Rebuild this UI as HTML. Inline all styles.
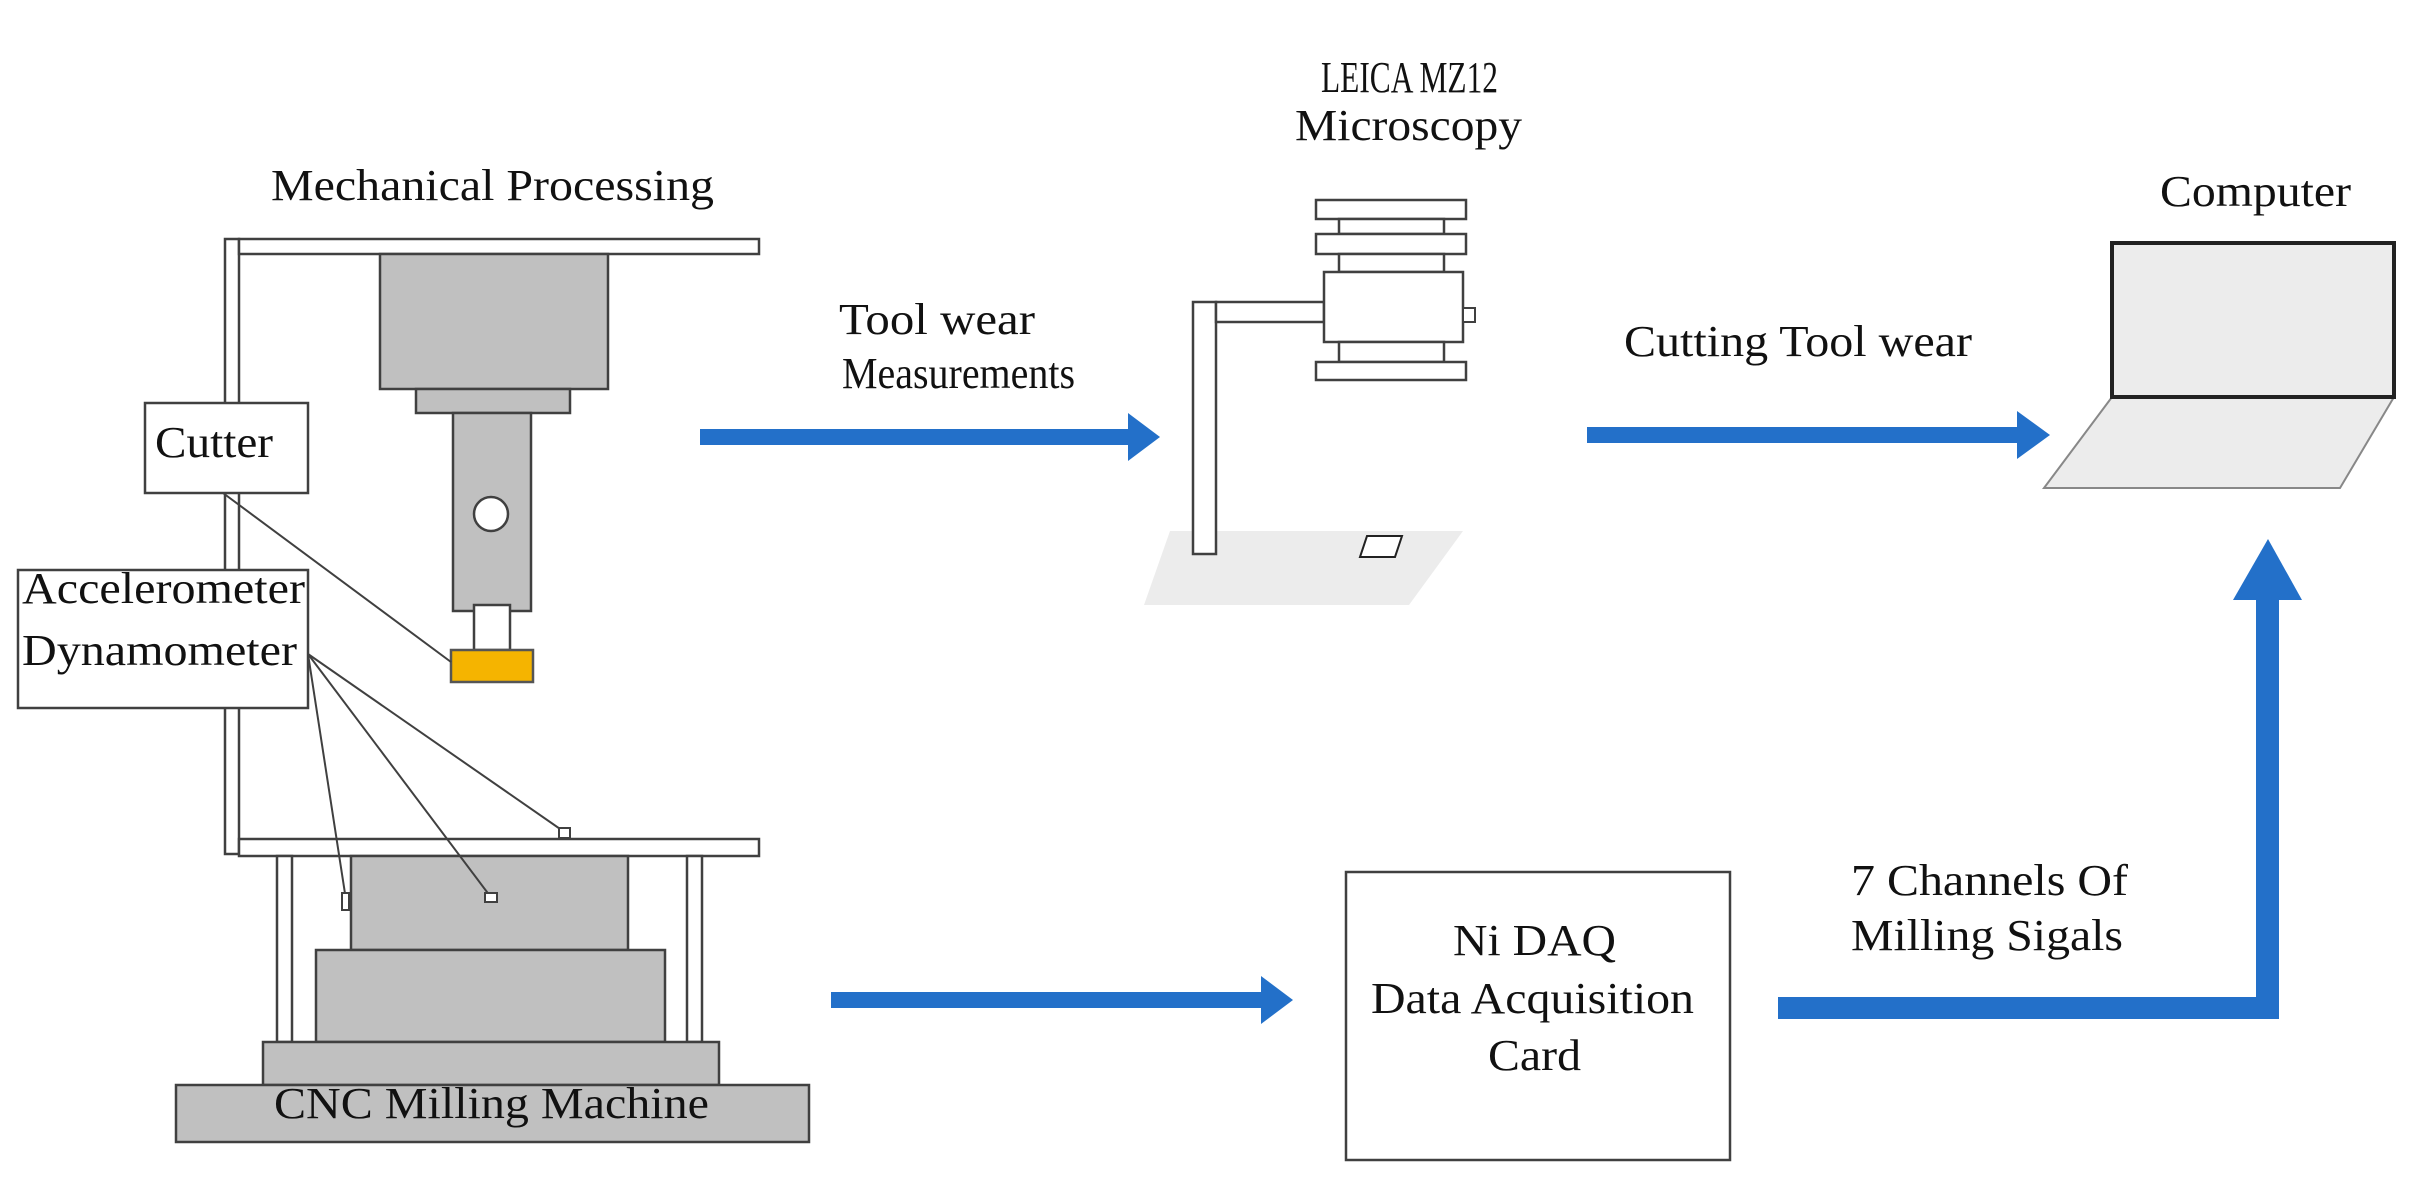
<!DOCTYPE html>
<html><head><meta charset="utf-8"><style>
html,body{margin:0;padding:0;background:#fff;}
svg{display:block;}
text{font-family:"Liberation Serif",serif;font-size:44px;fill:#111;}
</style></head><body>
<svg width="2414" height="1177" viewBox="0 0 2414 1177" xmlns="http://www.w3.org/2000/svg">
<g stroke="#404040" stroke-width="2.5">
 <rect x="225" y="239" width="14" height="615" fill="#fff"/>
 <rect x="239" y="239" width="520" height="15" fill="#fff"/>
 <rect x="380" y="254" width="228" height="135" fill="#c0c0c0"/>
 <rect x="416" y="389" width="154" height="24" fill="#c0c0c0"/>
 <rect x="453" y="413" width="78" height="198" fill="#c0c0c0"/>
 <circle cx="491" cy="514" r="17" fill="#fff"/>
 <rect x="474" y="605" width="36" height="45" fill="#fff"/>
 <rect x="451" y="650" width="82" height="32" fill="#f5b400" stroke="#555"/>
 <rect x="239" y="839" width="520" height="17" fill="#fff"/>
 <rect x="277" y="856" width="15" height="186" fill="#fff"/>
 <rect x="687" y="856" width="15" height="186" fill="#fff"/>
 <rect x="351" y="856" width="277" height="94" fill="#c0c0c0"/>
 <rect x="316" y="950" width="349" height="92" fill="#c0c0c0"/>
 <rect x="263" y="1042" width="456" height="43" fill="#c0c0c0"/>
 <rect x="176" y="1085" width="633" height="57" fill="#c0c0c0"/>
 <line x1="223" y1="493" x2="451" y2="662" stroke-width="2"/>
 <line x1="308" y1="654" x2="563" y2="831" stroke-width="2"/>
 <line x1="308" y1="654" x2="490" y2="896" stroke-width="2"/>
 <line x1="308" y1="654" x2="346" y2="900" stroke-width="2"/>
 <rect x="559" y="828" width="11" height="10" fill="#fff" stroke-width="2"/>
 <rect x="485" y="893" width="12" height="9" fill="#fff" stroke-width="2"/>
 <rect x="342" y="893" width="7" height="17" fill="#fff" stroke-width="2"/>
 <rect x="145" y="403" width="163" height="90" fill="#fff"/>
 <rect x="18" y="570" width="290" height="138" fill="#fff"/>
 <polygon points="1170,531 1463,531 1409,605 1144,605" fill="#ececec" stroke="none"/>
 <polygon points="1367,536 1402,536 1395,557 1360,557" fill="#fff" stroke="#222" stroke-width="2"/>
 <rect x="1193" y="302" width="23" height="252" fill="#fff"/>
 <rect x="1216" y="302" width="108" height="20" fill="#fff"/>
 <rect x="1316" y="200" width="150" height="19" fill="#fff"/>
 <rect x="1339" y="219" width="105" height="15" fill="#fff"/>
 <rect x="1316" y="234" width="150" height="20" fill="#fff"/>
 <rect x="1339" y="254" width="105" height="18" fill="#fff"/>
 <rect x="1324" y="272" width="139" height="70" fill="#fff"/>
 <rect x="1339" y="342" width="105" height="20" fill="#fff"/>
 <rect x="1316" y="362" width="150" height="18" fill="#fff"/>
 <rect x="1463" y="308" width="12" height="14" fill="#fff" stroke-width="2"/>
 <polygon points="2112,397 2394,397 2340,488 2044,488" fill="#ececec" stroke="#888" stroke-width="2"/>
 <rect x="2112" y="243" width="282" height="154" fill="#ececec" stroke="#222" stroke-width="4"/>
 <rect x="1346" y="872" width="384" height="288" fill="#fff"/>
</g>
<g fill="#2370c9">
 <rect x="700" y="429" width="430" height="16"/>
 <polygon points="1128,413 1160,437 1128,461"/>
 <rect x="1587" y="427" width="432" height="16"/>
 <polygon points="2017,411 2050,435 2017,459"/>
 <rect x="831" y="992" width="432" height="16"/>
 <polygon points="1261,976 1293,1000 1261,1024"/>
 <rect x="1778" y="997" width="501" height="22"/>
 <rect x="2256" y="598" width="23" height="421"/>
 <polygon points="2233,600 2268,539 2302,600"/>
</g>
<text x="271" y="200" textLength="443" lengthAdjust="spacingAndGlyphs">Mechanical Processing</text>
<text x="155" y="457" textLength="118" lengthAdjust="spacingAndGlyphs">Cutter</text>
<text x="22" y="603" textLength="283" lengthAdjust="spacingAndGlyphs">Accelerometer</text>
<text x="22" y="665" textLength="275" lengthAdjust="spacingAndGlyphs">Dynamometer</text>
<text x="274" y="1118" textLength="435" lengthAdjust="spacingAndGlyphs">CNC Milling Machine</text>
<text x="839" y="334" textLength="196" lengthAdjust="spacingAndGlyphs">Tool wear</text>
<text x="842" y="388" textLength="233" lengthAdjust="spacingAndGlyphs">Measurements</text>
<text x="1321" y="92" textLength="177" lengthAdjust="spacingAndGlyphs">LEICA MZ12</text>
<text x="1295" y="140" textLength="227" lengthAdjust="spacingAndGlyphs">Microscopy</text>
<text x="1624" y="356" textLength="348" lengthAdjust="spacingAndGlyphs">Cutting Tool wear</text>
<text x="2160" y="206" textLength="191" lengthAdjust="spacingAndGlyphs">Computer</text>
<text x="1851" y="895" textLength="277" lengthAdjust="spacingAndGlyphs">7 Channels Of</text>
<text x="1851" y="950" textLength="272" lengthAdjust="spacingAndGlyphs">Milling Sigals</text>
<text x="1453" y="955" textLength="163" lengthAdjust="spacingAndGlyphs">Ni DAQ</text>
<text x="1371" y="1013" textLength="323" lengthAdjust="spacingAndGlyphs">Data Acquisition</text>
<text x="1488" y="1070" textLength="93" lengthAdjust="spacingAndGlyphs">Card</text>
</svg>
</body></html>
